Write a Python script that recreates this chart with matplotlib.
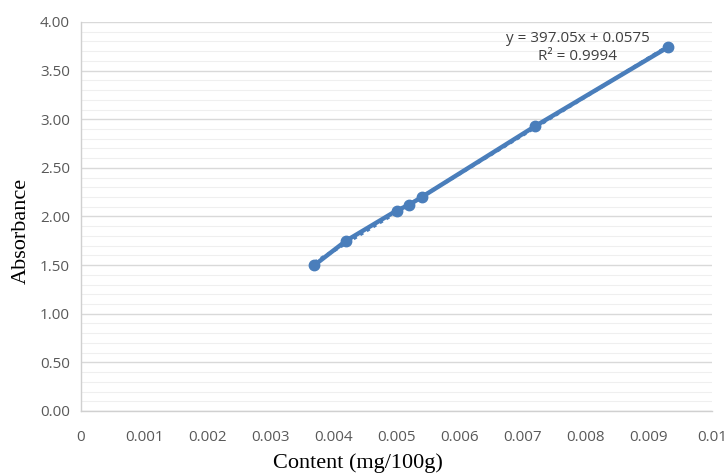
import matplotlib.pyplot as plt
import numpy as np
from matplotlib.ticker import MultipleLocator, FuncFormatter

# calibration points
content = [0.0037, 0.0042, 0.0050, 0.0052, 0.0054, 0.0072, 0.0093]
absorbance = [1.50, 1.75, 2.06, 2.12, 2.20, 2.93, 3.74]

slope = 397.05
intercept = 0.0575
r2 = 0.9994

blue = '#4a7ebb'
tick_font = 'Open Sans'
label_font = 'Liberation Serif'

fig = plt.figure(figsize=(7.27, 4.76), dpi=100)
ax = fig.add_axes([0.1114, 0.1366, 0.8680, 0.8172])

# linear trendline (dotted, mostly covered by the data line)
xs = np.array([min(content), max(content)])
ax.plot(xs, slope * xs + intercept, color=blue, lw=2.5, ls=(0, (1, 1.2)), zorder=3)
ax.plot(content, absorbance, color=blue, lw=3.2, marker='o', ms=7.5,
        solid_capstyle='round', zorder=4)

ax.set_xlim(0, 0.01)
ax.set_ylim(0, 4)
ax.xaxis.set_major_locator(MultipleLocator(0.001))
ax.yaxis.set_major_locator(MultipleLocator(0.5))
ax.yaxis.set_minor_locator(MultipleLocator(0.1))
ax.xaxis.set_major_formatter(FuncFormatter(lambda v, p: '0' if abs(v) < 1e-9 else f'{v:.3f}'.rstrip('0')))
ax.yaxis.set_major_formatter(FuncFormatter(lambda v, p: f'{v:.2f}'))

ax.grid(axis='y', which='major', color='#d9d9d9', lw=1)
ax.grid(axis='y', which='minor', color='#efefef', lw=0.8)
ax.set_axisbelow(True)

for s in ['top', 'right']:
    ax.spines[s].set_visible(False)
for s in ['left', 'bottom']:
    ax.spines[s].set_color('#d0d0d0')
    ax.spines[s].set_linewidth(1)

ax.tick_params(axis='both', which='both', length=0, colors='#595959', labelsize=11)
ax.tick_params(axis='x', pad=13.5)
ax.tick_params(axis='y', pad=8)
for lbl in ax.get_xticklabels() + ax.get_yticklabels():
    lbl.set_fontfamily(tick_font)

fig.text(358 / 727, 1 - 463 / 476, 'Content (mg/100g)', ha='center', va='center',
         fontfamily=label_font, fontsize=16)
fig.text(21 / 727, 1 - 231 / 476, 'Absorbance', ha='center', va='center', rotation=90,
         fontfamily=label_font, fontsize=16)

ax.text(0.00787, 3.74, f'y = {slope}x + {intercept}\nR² = {r2}', ha='center', va='center',
        fontfamily=tick_font, fontsize=11, color='#404040', linespacing=1.25)

fig.savefig('out.png', dpi=100)
